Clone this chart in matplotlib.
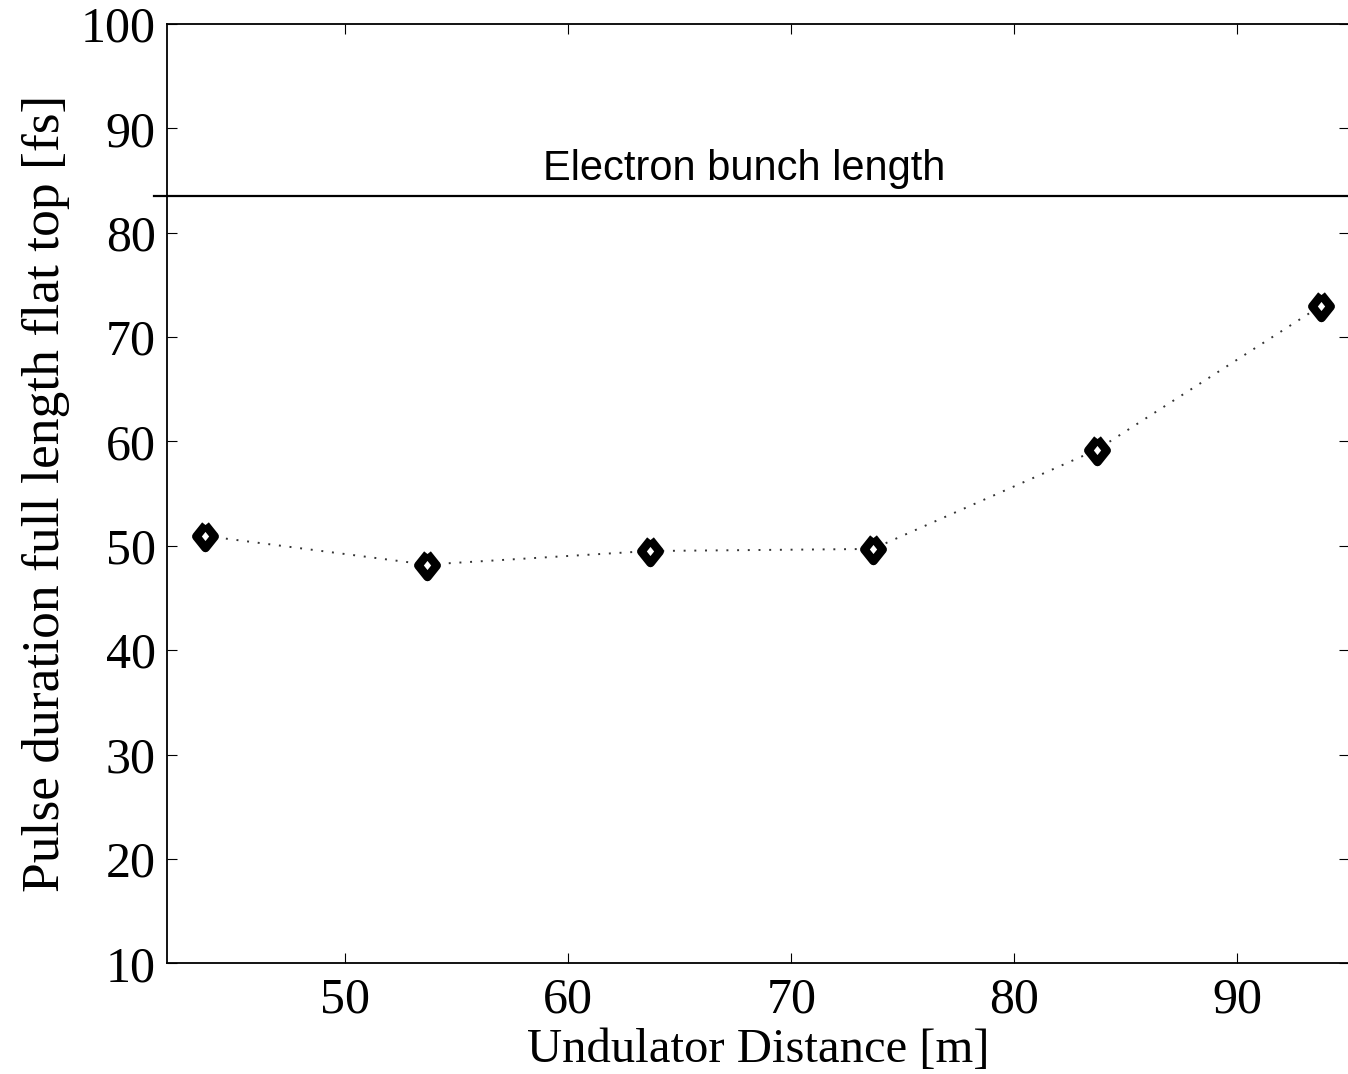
import numpy as np
import matplotlib
matplotlib.use("Agg")
import matplotlib.pyplot as plt
from matplotlib.markers import MarkerStyle

# --- data ---
distance = [43.7, 53.65, 63.65, 73.65, 83.7, 93.75]   # undulator distance [m]
pulse_fs = [50.95, 48.2, 49.5, 49.7, 59.2, 73.0]       # flat-top pulse duration [fs]
bunch_length = 83.55                                   # electron bunch length [fs]
x_ticks = [50, 60, 70, 80, 90]
y_ticks = [10, 20, 30, 40, 50, 60, 70, 80, 90, 100]

serif = "Liberation Serif"
sans = "Liberation Sans"

fig = plt.figure(figsize=(13.48, 10.74), dpi=100)
ax = fig.add_axes([0.1237, 0.1031, 0.877, 0.8746])

diamond = MarkerStyle([(0, 1), (0.8, 0), (0, -1), (-0.8, 0), (0, 1)], joinstyle="miter")
ax.plot(distance, pulse_fs, color="#333333", linestyle=(0, (1, 4.5)), linewidth=1.4)
ax.plot(distance, pulse_fs, linestyle="none", marker=diamond, markersize=16.5,
        markerfacecolor="white", markeredgecolor="black", markeredgewidth=6.2)

# electron bunch length reference line
ax.plot([41.43, 95.5], [bunch_length, bunch_length], color="black", linewidth=1.6,
        clip_on=False)
ax.text(67.9, 85.05, "Electron bunch length", family=sans, fontsize=30,
        ha="center", va="baseline")

ax.set_xlim(42, 95)
ax.set_ylim(10, 100)
ax.set_xticks(x_ticks)
ax.set_yticks(y_ticks)
ax.tick_params(direction="in", top=True, right=True, length=7, width=0.8,
               labelsize=36, pad=8)
ax.tick_params(axis="x", pad=10)
for lab in ax.get_xticklabels() + ax.get_yticklabels():
    lab.set_family(serif)
for s in ax.spines.values():
    s.set_linewidth(1.3)

ax.set_xlabel("Undulator Distance [m]", family=serif, fontsize=35, labelpad=3)
ax.set_ylabel("Pulse duration full length flat top [fs]", family=serif, fontsize=38.5,
              labelpad=8)

fig.savefig("out.png", dpi=100)
